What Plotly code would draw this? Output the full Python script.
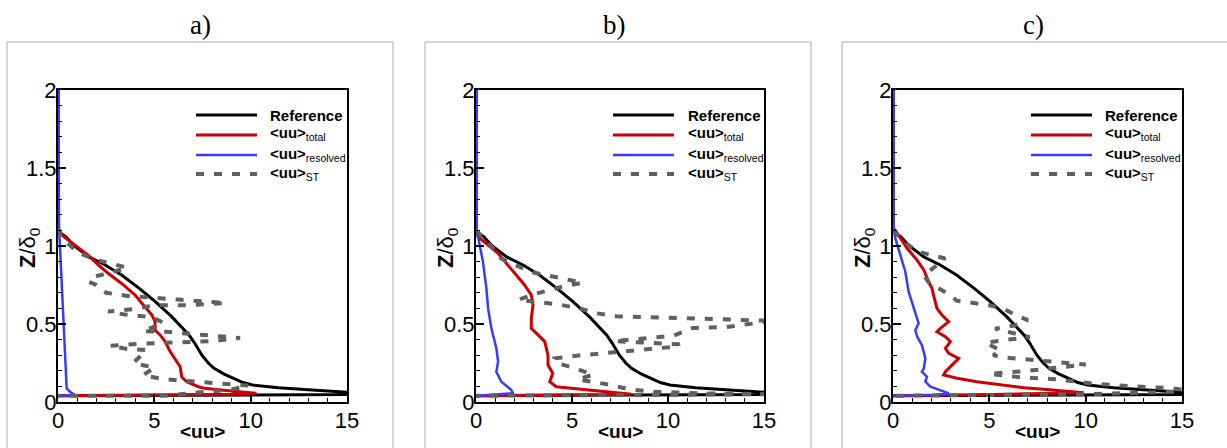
import plotly.graph_objects as go

# ---------------- data ----------------
# Reference profile (same in all panels): z/delta0 and <uu>
ref_z = [2.0, 1.12, 1.09, 1.06, 1.0, 0.93, 0.878, 0.814, 0.73, 0.643, 0.547, 0.43, 0.376,
         0.30, 0.25, 0.216, 0.18, 0.15, 0.125, 0.109, 0.092, 0.077, 0.062, 0.055, 0.048,
         0.045, 0.04]
ref_uu = [0.0, 0.0, 0.05, 0.4, 0.85, 1.6, 2.45, 3.3, 4.2, 5.05, 5.9, 6.8, 7.1,
          7.47, 7.8, 8.1, 8.6, 9.1, 9.6, 10.1, 11.45, 13.2, 15.0, 16.0, 15.0,
          10.0, 0.0]

# panel a
tot_a_z = [2.0, 1.12, 1.07, 1.006, 0.94, 0.878, 0.825, 0.76, 0.686, 0.622, 0.558, 0.515, 0.46,
           0.43, 0.387, 0.323, 0.259, 0.226, 0.162, 0.13, 0.098, 0.088, 0.075, 0.065, 0.056,
           0.05, 0.04]
tot_a_uu = [0.0, 0.0, 0.19, 0.88, 1.58, 2.1, 2.6, 3.3, 4.0, 4.43, 4.87, 5.04, 5.04,
            5.3, 5.56, 5.82, 6.16, 6.34, 6.42, 6.68, 7.29, 7.6, 8.6, 9.5, 10.3,
            9.0, 0.0]
res_a_z = [2.0, 1.13, 1.006, 0.79, 0.58, 0.365, 0.216, 0.088, 0.066, 0.045, 0.04]
res_a_uu = [0.03, 0.05, 0.1, 0.19, 0.28, 0.36, 0.4, 0.45, 0.62, 0.88, 0.0]
st_a_z = [1.11, 1.06, 0.96, 0.91, 0.88, 0.86, 0.80, 0.77, 0.75, 0.70, 0.68, 0.66, 0.64, 0.635,
          0.62, 0.62, 0.595, 0.58, 0.56, 0.545, 0.505, 0.455, 0.45, 0.43, 0.41, 0.39, 0.385,
          0.375, 0.36, 0.34, 0.333, 0.30, 0.25, 0.22, 0.17, 0.145, 0.125, 0.105, 0.08, 0.055,
          0.04, 0.04]
st_a_uu = [0.0, 0.15, 1.0, 2.0, 3.0, 3.6, 1.8, 1.6, 2.0, 2.5, 3.6, 5.6, 7.6, 8.7,
           6.8, 5.0, 3.9, 2.6, 3.5, 4.9, 5.5, 4.4, 5.6, 7.6, 9.45, 8.0, 6.0,
           4.5, 2.7, 3.6, 4.6, 4.3, 3.9, 5.0, 4.4, 5.6, 7.5, 9.9, 9.0, 7.0,
           5.5, 0.0]

# panel b
tot_b_z = [2.0, 1.11, 1.06, 0.953, 0.889, 0.814, 0.75, 0.686, 0.622, 0.536, 0.472, 0.43, 0.387,
           0.30, 0.237, 0.184, 0.13, 0.098, 0.077, 0.056, 0.05, 0.045, 0.04]
tot_b_uu = [0.0, 0.0, 0.1, 1.15, 1.58, 2.1, 2.53, 2.88, 2.97, 2.88, 2.88, 3.23, 3.58,
            3.75, 3.75, 4.0, 3.84, 4.18, 5.92, 7.57, 8.1, 4.0, 0.0]
res_b_z = [2.0, 1.11, 1.006, 0.90, 0.73, 0.60, 0.472, 0.344, 0.259, 0.194, 0.13, 0.077, 0.056,
           0.045, 0.04]
res_b_uu = [0.03, 0.03, 0.19, 0.36, 0.54, 0.63, 0.8, 1.06, 1.15, 1.06, 1.32, 1.84, 1.93,
            0.9, 0.0]
st_b_z = [1.10, 0.985, 0.92, 0.88, 0.83, 0.80, 0.765, 0.74, 0.69, 0.655, 0.64, 0.625, 0.60, 0.57,
          0.55, 0.54, 0.53, 0.52, 0.48, 0.475, 0.425, 0.41, 0.39, 0.38, 0.37, 0.355, 0.335, 0.32,
          0.30, 0.28, 0.25, 0.215, 0.175, 0.145, 0.13, 0.11, 0.08, 0.066, 0.055, 0.05, 0.04]
st_b_uu = [0.0, 0.9, 1.3, 2.0, 3.0, 4.2, 5.55, 4.5, 3.0, 2.2, 3.2, 4.3, 5.4, 6.2,
           7.3, 10.0, 13.0, 15.5, 13.0, 11.3, 10.3, 8.9, 7.2, 9.0, 10.6, 10.4, 8.5, 7.1,
           5.5, 4.1, 4.2, 5.2, 6.1, 5.3, 6.0, 7.0, 8.0, 9.2, 12.0, 15.5, 0.0]

# panel c
tot_c_z = [2.0, 1.12, 1.07, 0.985, 0.91, 0.846, 0.77, 0.73, 0.686, 0.60, 0.558, 0.515, 0.472,
           0.45, 0.419, 0.387, 0.344, 0.312, 0.28, 0.237, 0.194, 0.173, 0.152, 0.13, 0.109,
           0.092, 0.083, 0.07, 0.06, 0.05, 0.04]
tot_c_uu = [0.0, 0.0, 0.29, 0.73, 1.25, 1.6, 1.85, 2.02, 2.1, 2.28, 2.54, 2.89, 2.46,
            2.28, 2.72, 2.98, 2.72, 2.89, 3.41, 3.06, 2.72, 2.63, 3.32, 4.36, 5.57,
            6.78, 7.65, 9.0, 9.9, 6.0, 0.0]
res_c_z = [2.0, 1.12, 1.05, 0.94, 0.835, 0.707, 0.60, 0.504, 0.46, 0.42, 0.365, 0.28, 0.216,
           0.194, 0.162, 0.13, 0.098, 0.066, 0.055, 0.045, 0.04]
res_c_uu = [0.03, 0.03, 0.12, 0.38, 0.64, 0.81, 1.07, 1.33, 1.16, 1.25, 1.5, 1.68, 1.6,
            1.5, 1.76, 1.68, 1.94, 2.72, 2.9, 2.1, 0.0]
st_c_z = [1.10, 1.03, 0.965, 0.94, 0.92, 0.85, 0.81, 0.76, 0.72, 0.685, 0.65, 0.64, 0.62, 0.60,
          0.555, 0.525, 0.49, 0.47, 0.44, 0.415, 0.40, 0.38, 0.33, 0.30, 0.285, 0.27, 0.255,
          0.24, 0.22, 0.20, 0.18, 0.16, 0.145, 0.115, 0.10, 0.088, 0.07, 0.05, 0.04]
st_c_uu = [0.0, 0.55, 1.25, 2.0, 2.7, 2.0, 1.6, 1.9, 2.5, 3.0, 3.3, 4.0, 5.0, 5.7,
           6.4, 7.0, 6.3, 5.3, 6.2, 7.1, 6.0, 4.8, 5.6, 5.2, 5.8, 7.2, 8.5,
           10.0, 8.5, 7.0, 5.0, 6.5, 8.5, 10.6, 12.5, 14.5, 15.5, 10.0, 0.0]

panel_titles = ["a)", "b)", "c)"]
series_names = ["<b>Reference</b>", "<b>&lt;uu&gt;</b><sub>total</sub>",
                "<b>&lt;uu&gt;</b><sub>resolved</sub>", "<b>&lt;uu&gt;</b><sub>ST</sub>"]
x_ticks = [0, 5, 10, 15]
y_ticks = [0, 0.5, 1, 1.5, 2]

panels = [
    (tot_a_uu, tot_a_z, res_a_uu, res_a_z, st_a_uu, st_a_z),
    (tot_b_uu, tot_b_z, res_b_uu, res_b_z, st_b_uu, st_b_z),
    (tot_c_uu, tot_c_z, res_c_uu, res_c_z, st_c_uu, st_c_z),
]

# ---------------- layout geometry ----------------
W, H = 1227, 448
plot_px = [(58, 347), (476, 764), (893, 1182)]
frame_px = [(7, 393), (425, 811), (842, 1240)]
title_px = [200, 614, 1033]
legend_line_px = [(196, 257), (613, 674), (1031, 1092)]
legend_text_px = [268, 686, 1103]
legend_rows_px = [115, 135, 155, 174]
top_px, bot_px = 90, 402

fig = go.Figure()
styles = [dict(color="#000000", width=3),
          dict(color="#cc0000", width=3),
          dict(color="#3a3aff", width=2.5),
          dict(color="#606060", width=4, dash="8px,10px")]

for i, (tu, tz, ru, rz, su, sz) in enumerate(panels):
    sfx = "" if i == 0 else str(i + 1)
    data = [(ref_uu, ref_z), (tu, tz), (ru, rz), (su, sz)]
    for k, (xx, zz) in enumerate(data):
        fig.add_trace(go.Scatter(x=xx, y=zz, mode="lines", name=series_names[k],
                                 line=styles[k], xaxis="x" + sfx, yaxis="y" + sfx,
                                 showlegend=False))

tickfont = dict(family="Liberation Sans, Arial, sans-serif", size=22, color="black")
lay = dict(width=W, height=H, autosize=False,
           margin=dict(l=0, r=0, t=0, b=0, pad=0, autoexpand=False),
           paper_bgcolor="white", plot_bgcolor="white", showlegend=False)
ydom = [1 - bot_px / H, 1 - top_px / H]
for i in range(3):
    sfx = "" if i == 0 else str(i + 1)
    x0, x1 = plot_px[i]
    lay["xaxis" + sfx] = dict(domain=[x0 / W, x1 / W], range=[0, 15], anchor="y" + sfx,
                              tickvals=x_ticks, ticks="inside", ticklen=8, tickwidth=1.5,
                              tickcolor="black", showline=True, linecolor="black", linewidth=2,
                              mirror=True, showgrid=False, zeroline=False, tickfont=tickfont,
                              automargin=False, ticklabelstandoff=-2,
                              minor=dict(dtick=1, ticks="inside", ticklen=4, tickcolor="black",
                                         tickwidth=1, showgrid=False))
    lay["yaxis" + sfx] = dict(domain=ydom, range=[0, 2], anchor="x" + sfx,
                              tickvals=y_ticks, ticks="inside", ticklen=8, tickwidth=1.5,
                              tickcolor="black", showline=True, linecolor="black", linewidth=2,
                              mirror=True, showgrid=False, zeroline=False, tickfont=tickfont,
                              automargin=False, ticklabelstandoff=-5,
                              minor=dict(dtick=0.1, ticks="inside", ticklen=4, tickcolor="black",
                                         tickwidth=1, showgrid=False))

fig.update_layout(**lay)

shapes = []
annotations = []
legend_font = dict(family="Liberation Sans, Arial, sans-serif", size=15, color="black")
for i in range(3):
    fx0, fx1 = frame_px[i]
    shapes.append(dict(type="rect", xref="paper", yref="paper", x0=fx0 / W, x1=fx1 / W,
                       y0=-0.2, y1=1 - 42 / H, line=dict(color="#aaaaaa", width=1),
                       fillcolor="rgba(0,0,0,0)", layer="below"))
    annotations.append(dict(text=panel_titles[i], xref="paper", yref="paper",
                            x=title_px[i] / W, y=1 - 25 / H, showarrow=False,
                            xanchor="center", yanchor="middle",
                            font=dict(family="Liberation Serif, DejaVu Serif, serif", size=27,
                                      color="black")))
    x0, x1 = plot_px[i]
    annotations.append(dict(text="<b>&lt;uu&gt;</b>", xref="paper", yref="paper",
                            x=(x0 + x1) / 2 / W, y=1 - 431 / H, showarrow=False,
                            xanchor="center", yanchor="middle",
                            font=dict(family="Liberation Sans, Arial, sans-serif", size=19,
                                      color="black")))
    annotations.append(dict(text="<b>Z</b>/δ<sub>0</sub>", xref="paper", yref="paper",
                            x=(x0 - 29) / W, y=1 - 248 / H, showarrow=False, textangle=-90,
                            xanchor="center", yanchor="middle",
                            font=dict(family="Liberation Sans, Arial, sans-serif", size=22,
                                      color="black")))
    # legend (inside each panel, top right)
    lx0, lx1 = legend_line_px[i]
    for k in range(4):
        ry = legend_rows_px[k]
        shapes.append(dict(type="line", xref="paper", yref="paper",
                           x0=lx0 / W, x1=lx1 / W, y0=1 - ry / H, y1=1 - ry / H,
                           line=styles[k]))
        annotations.append(dict(text=series_names[k], xref="paper", yref="paper",
                                x=legend_text_px[i] / W, y=1 - (ry + (0 if k == 0 else -1)) / H,
                                showarrow=False, xanchor="left", yanchor="middle",
                                font=legend_font))
fig.update_layout(shapes=shapes, annotations=annotations)

fig.write_html("out.html", post_script="document.body.style.margin='0px';")
